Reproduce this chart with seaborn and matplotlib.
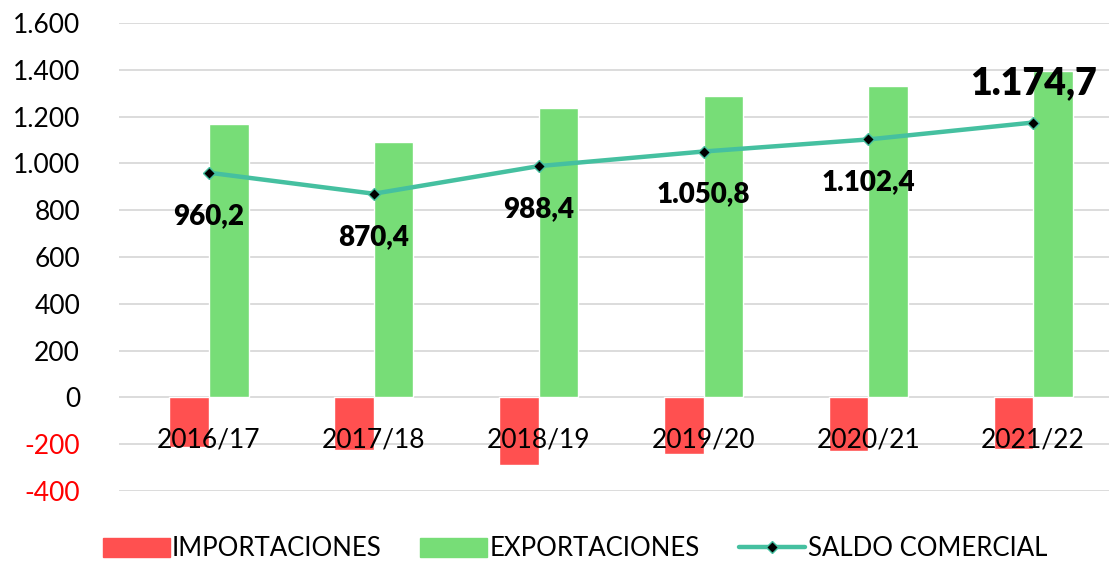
import pandas as pd
import seaborn as sns
import numpy as np
from matplotlib import pyplot as plt
from matplotlib.lines import Line2D
from matplotlib.patches import Patch

periods = ['2016/17', '2017/18', '2018/19', '2019/20', '2020/21', '2021/22']
importaciones = [-212, -224, -290, -241, -230, -222]
exportaciones = [1167, 1090, 1235, 1286, 1329, 1397]
saldo = [960.2, 870.4, 988.4, 1050.8, 1102.4, 1174.7]
saldo_labels = ['960,2', '870,4', '988,4', '1.050,8', '1.102,4', '1.174,7']
y_ticks = [-400, -200, 0, 200, 400, 600, 800, 1000, 1200, 1400, 1600]

red = '#ff5050'
green = '#77dd77'
teal = '#45c0a0'

sns.set_style('white')
plt.rcParams['font.family'] = ['Lato', 'DejaVu Sans']
plt.rcParams['text.color'] = 'black'
plt.rcParams['xtick.color'] = 'black'
plt.rcParams['ytick.color'] = 'black'

df = pd.DataFrame({
    'periodo': periods * 2,
    'valor': importaciones + exportaciones,
    'tipo': ['IMPORTACIONES'] * 6 + ['EXPORTACIONES'] * 6,
})

fig = plt.figure(figsize=(11.09, 5.62), dpi=100)
ax = fig.add_axes([119 / 1109, 1 - 491 / 562, 990 / 1109, 468 / 562])

sns.barplot(data=df, x='periodo', y='valor', hue='tipo', order=periods,
            palette=[red, green], width=0.48, saturation=1, ax=ax, legend=False)
sns.lineplot(x=np.arange(6), y=saldo, color=teal, lw=3.2, marker='D', markersize=6,
             markerfacecolor='black', markeredgecolor=teal, markeredgewidth=1, ax=ax)

for i, (v, lab) in enumerate(zip(saldo, saldo_labels)):
    if i == len(saldo) - 1:
        ax.annotate(lab, (i, v), xytext=(0, 28), textcoords='offset points',
                    ha='center', va='center', fontsize=27, fontweight='heavy')
    else:
        ax.annotate(lab, (i, v), xytext=(0, -31), textcoords='offset points',
                    ha='center', va='center', fontsize=20, fontweight='heavy')

ax.set_xlim(-0.546, 5.46)
ax.set_ylim(-400, 1600)
ax.set_yticks(y_ticks)
ax.set_yticklabels([f'{t:,}'.replace(',', '.') for t in y_ticks])
for t, lab in zip(y_ticks, ax.get_yticklabels()):
    lab.set_color('#ff0000' if t < 0 else 'black')
ax.tick_params(axis='y', labelsize=19, length=0, pad=28)
ax.tick_params(axis='x', labelsize=19, length=0, pad=22)
ax.yaxis.grid(True, color='#d9d9d9', lw=1.3)
ax.set_axisbelow(True)
ax.xaxis.set_zorder(3)
ax.spines['bottom'].set_position(('data', 0))
for s in ax.spines.values():
    s.set_visible(False)
ax.set_xlabel('')
ax.set_ylabel('')

handles = [Patch(color=red, label='IMPORTACIONES'),
           Patch(color=green, label='EXPORTACIONES'),
           Line2D([], [], color=teal, lw=3.2, marker='D', markersize=6,
                  markerfacecolor='black', markeredgecolor=teal, label='SALDO COMERCIAL')]
fig.legend(handles=handles, loc='center', bbox_to_anchor=(575 / 1109, 1 - 549 / 562),
           ncol=3, frameon=False, fontsize=18.5, handlelength=2.6, handleheight=0.8,
           columnspacing=1.5, handletextpad=0.1)

plt.savefig('out.png', dpi=100)
